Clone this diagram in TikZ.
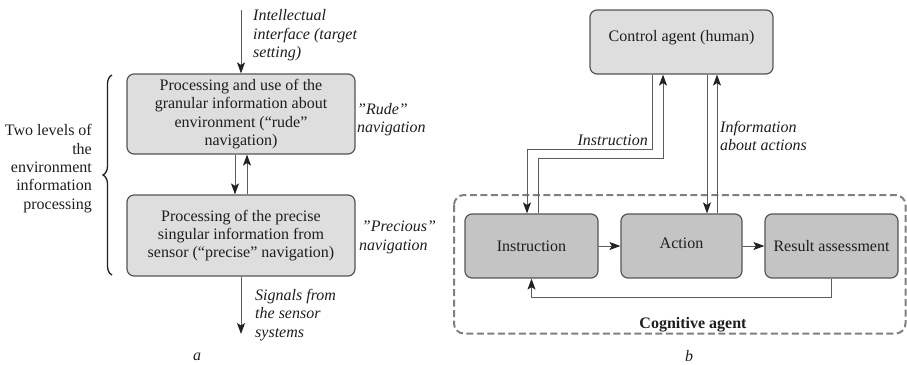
\documentclass[tikz,border=0pt]{standalone}
\usepackage{fontspec}
\setmainfont{Liberation Serif}
\usetikzlibrary{arrows.meta,positioning,calc,decorations.pathreplacing}

\definecolor{edgegray}{HTML}{555555}
\definecolor{wiregray}{HTML}{5C5C5C}
\definecolor{tipgray}{HTML}{222222}
\definecolor{lightfill}{HTML}{DEDEDE}
\definecolor{darkfill}{HTML}{C4C4C4}
\definecolor{inkgray}{HTML}{1E1E1E}

\begin{document}
\begin{tikzpicture}[x=1pt, y=-1pt,
    box/.style={draw=edgegray, line width=1.2pt, rounded corners=7pt, fill=lightfill,
                align=center, inner sep=2pt, text=inkgray,
                font=\fontsize{16}{18.4}\selectfont},
    note/.style={align=left, inner sep=0pt, text=inkgray,
                 font=\fontsize{16}{18.4}\selectfont\itshape},
    arr/.style={-{Stealth[length=11pt, width=8pt, inset=2.5pt, color=tipgray]},
                line width=1pt, draw=wiregray}
]
    \useasboundingbox (0,0) rectangle (907,364);

    % (a) two processing levels
    \node[box, minimum width=228pt, minimum height=80pt] (rough) at (241,114)
        {Processing and use of the\\granular information about\\environment (“rude”\\navigation)};
    \node[box, minimum width=228pt, minimum height=81pt] (precise) at (241,235.5)
        {Processing of the precise\\singular information from\\sensor (“precise” navigation)};

    \coordinate (target) at (241,10);
    \coordinate (sensors) at (241,334);
    \draw[arr] (target) -- (rough.north);
    \draw[arr] ([xshift=-6pt]rough.south) -- ([xshift=-6pt]precise.north);
    \draw[arr] ([xshift=6pt]precise.north) -- ([xshift=6pt]rough.south);
    \draw[arr] (precise.south) -- (sensors);

    \node[note, anchor=west] (targetnote) at (253,35.5) {Intellectual\\interface (target\\setting)};
    \node[note, anchor=west] (roughnote) at (357,119.5) {{\char34}Rude{\char34}\\navigation};
    \node[note, anchor=west] (precisenote) at (359,237.5) {\,{\char34}Precious{\char34}\\navigation};
    \node[note, anchor=west] (sensornote) at (255,315) {Signals from\\the sensor\\systems};

    % brace over both levels
    \draw[inkgray, line width=1.3pt, decorate, decoration={brace, amplitude=9pt}]
        (112,275) -- (112,75);
    \node[note, font=\fontsize{16}{18.4}\selectfont, align=right, anchor=east] (levels) at (92,168.5)
        {Two levels of\\the\\environment\\information\\processing};

    \node[note] (capa) at (197,357) {a};

    % (b) control and cognitive agents
    \node[box, minimum width=183pt, minimum height=64pt, text depth=12pt] (control) at (681.5,42)
        {Control agent (human)};
    \node[box, fill=darkfill, minimum width=133pt, minimum height=64pt] (instr) at (531.5,246) {Instruction};
    \node[box, fill=darkfill, minimum width=121pt, minimum height=64pt, text depth=6pt] (action) at (681.5,246) {Action};
    \node[box, fill=darkfill, minimum width=133pt, minimum height=64pt] (result) at (831.5,246) {Result assessment};

    \draw[gray, line width=2pt, dashed, dash pattern=on 7pt off 3.5pt, rounded corners=10pt]
        (454,195) rectangle (905.5,333.5);
    \node[inner sep=0pt, text=inkgray, font=\fontsize{16}{18}\selectfont\bfseries] (cogn) at (693,325) {Cognitive agent};

    \draw[arr] ([xshift=-29.5pt]control.south) -- ++(0,75) -| ([xshift=-4.5pt]instr.north);
    \draw[arr] ([xshift=6.5pt]instr.north) -- ++(0,-55) -| ([xshift=-18.5pt]control.south);
    \draw[arr] ([xshift=25.5pt]control.south) -- ([xshift=25.5pt]action.north);
    \draw[arr] ([xshift=35.5pt]action.north) -- ([xshift=35.5pt]control.south);
    \draw[arr] (instr) -- (action);
    \draw[arr] (action) -- (result);
    \draw[arr] (result.south) -- ++(0,19) -| (instr.south);

    \node[note, anchor=south east] (instrnote) at (648,146) {Instruction};
    \node[note, anchor=west] (infonote) at (720,136) {Information\\about actions};

    \node[note] (capb) at (689,356) {b};
\end{tikzpicture}
\end{document}
